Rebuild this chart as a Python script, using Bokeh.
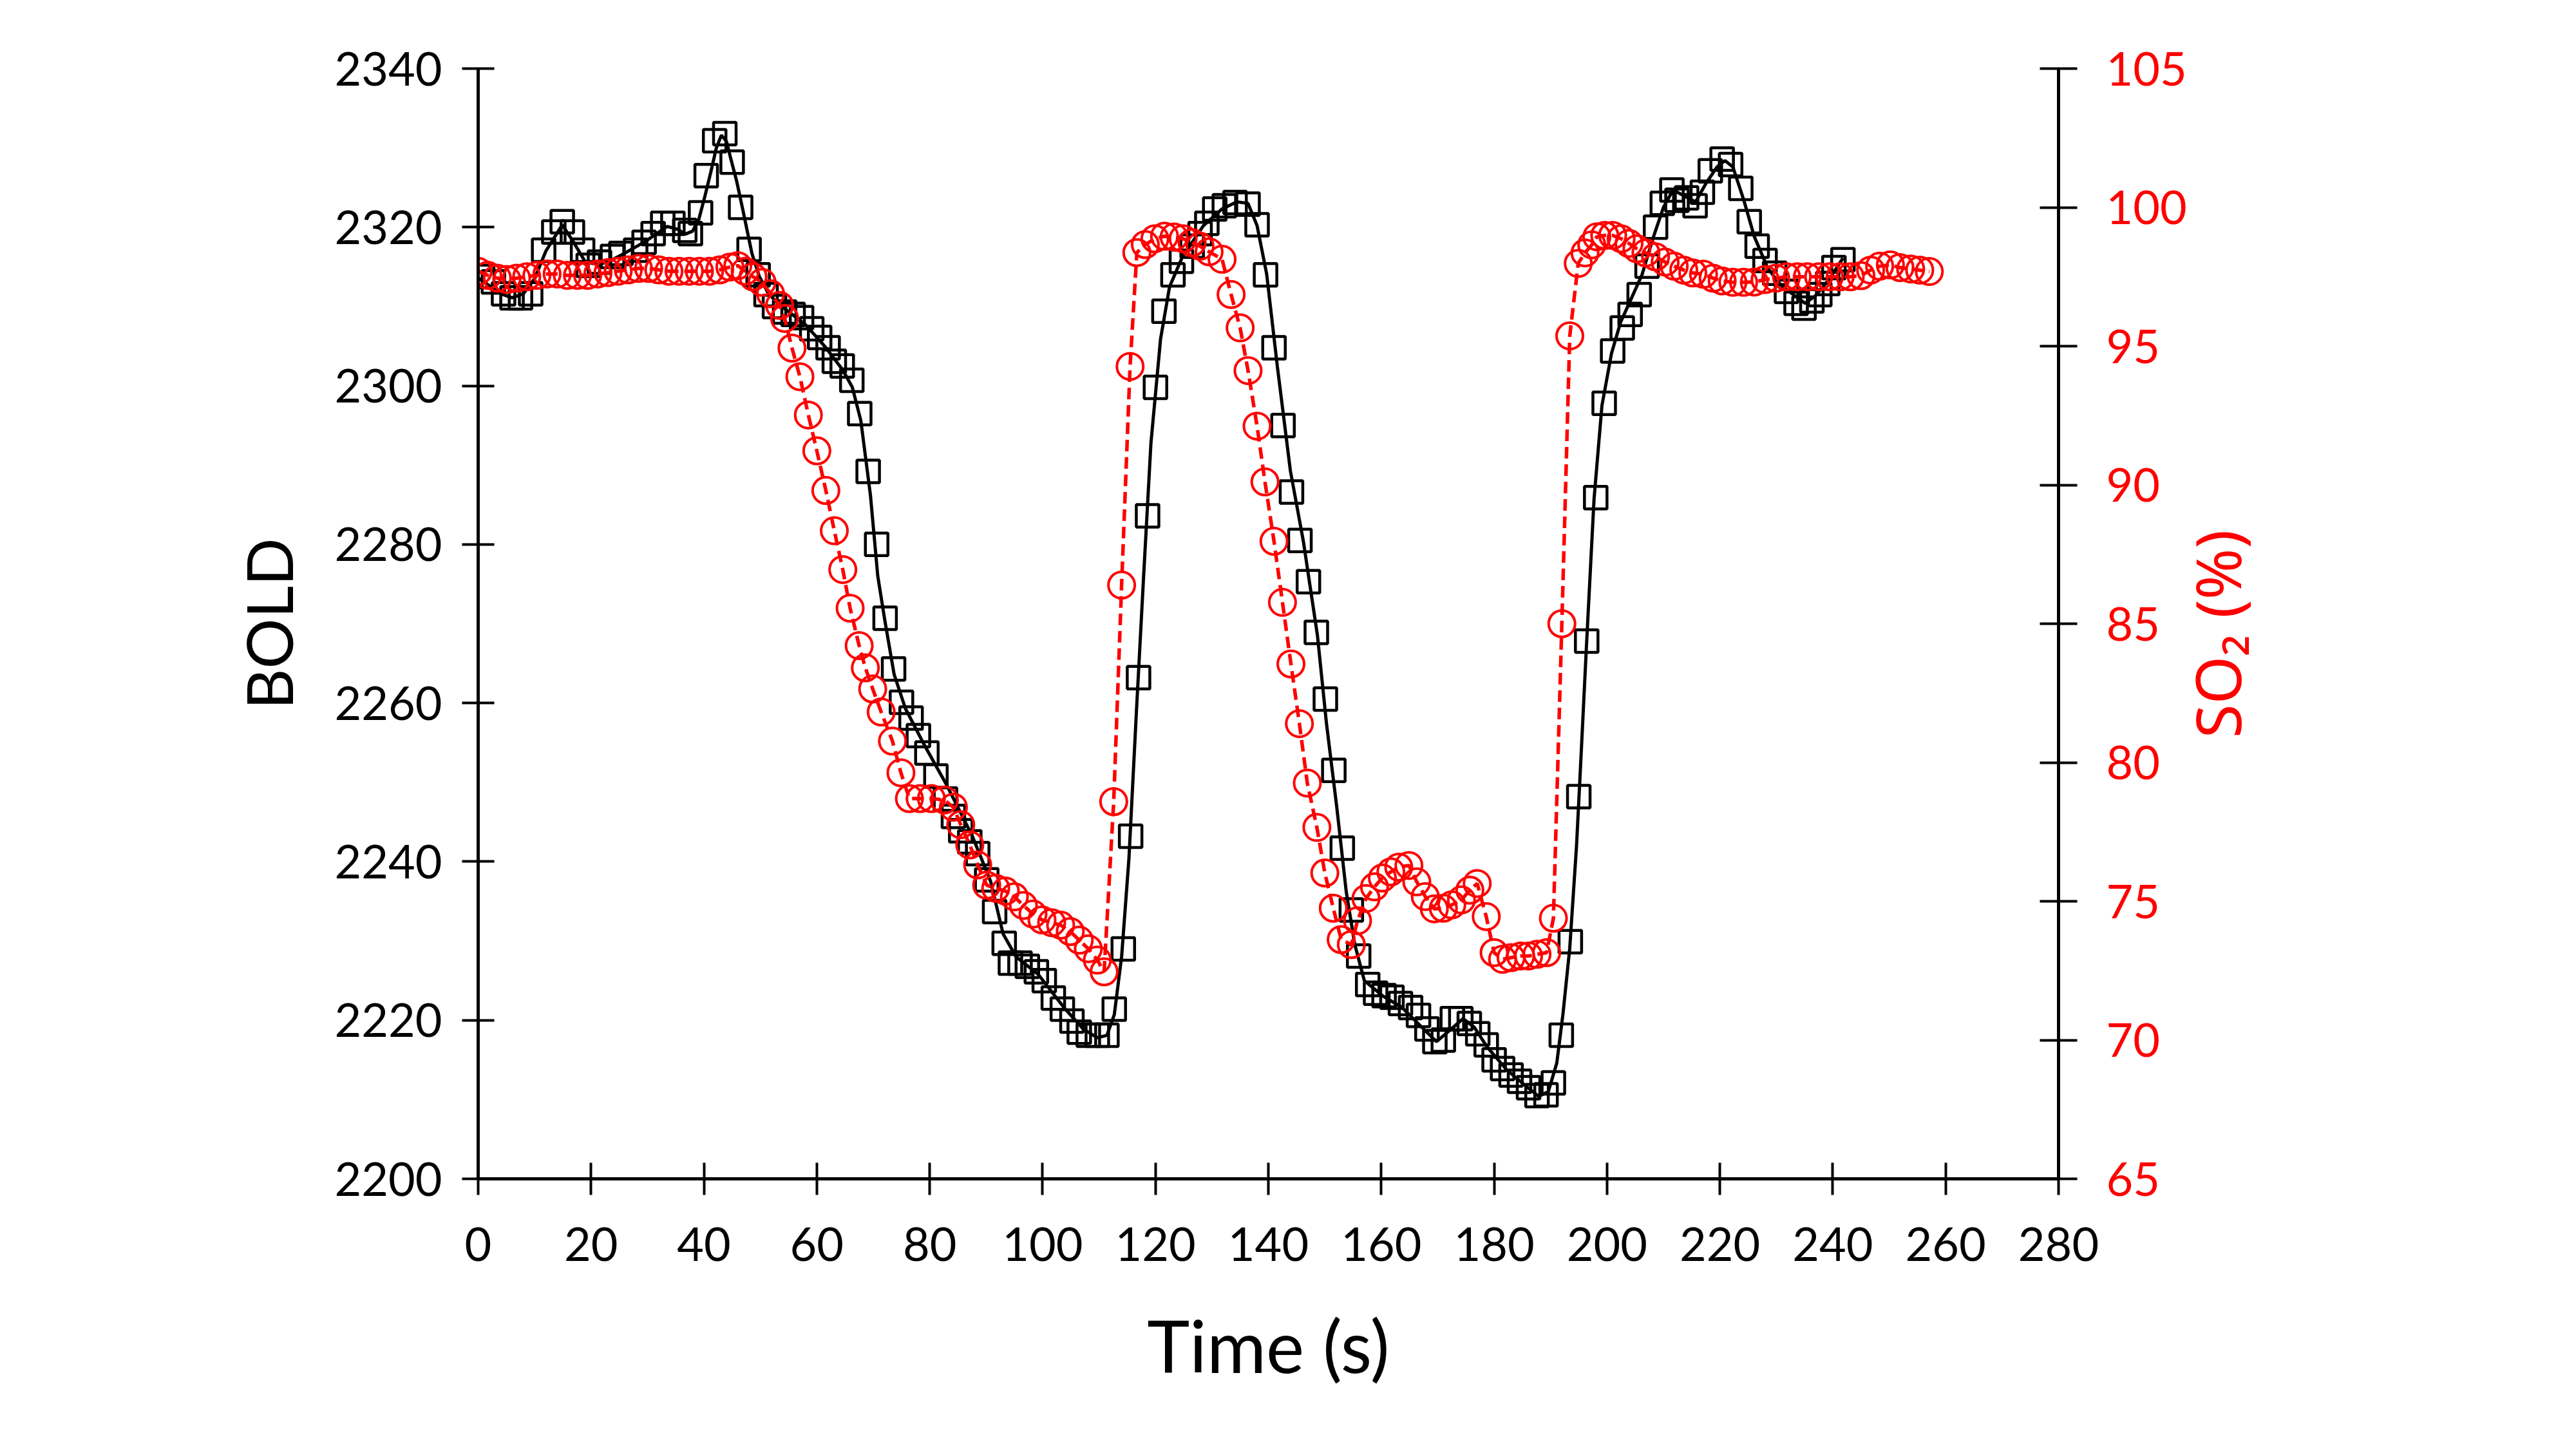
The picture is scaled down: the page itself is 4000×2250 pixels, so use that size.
import math
from bokeh.plotting import figure
from bokeh.models import Range1d, LinearAxis, FixedTicker
from bokeh.layouts import row
from bokeh.core.properties import value
from bokeh.embed import file_html
from bokeh.resources import INLINE

# ---------------- data ----------------
x_ticks = [0, 20, 40, 60, 80, 100, 120, 140, 160, 180, 200, 220, 240, 260, 280]
bold_ticks = [2200, 2220, 2240, 2260, 2280, 2300, 2320, 2340]
so2_ticks = [65, 70, 75, 80, 85, 90, 95, 100, 105]

# BOLD measurements (squares)
bold_t = [0.8, 2.7, 4.5, 6.0, 7.5, 9.3, 11.6, 13.4, 14.9, 16.7,
          18.5, 19.5, 21.5, 23.8, 25.3, 27.9, 29.4, 31.0, 32.7, 34.5,
          36.6, 37.6, 39.4, 40.4, 41.9, 43.7, 45.0, 46.5, 48.0, 49.6,
          51.0, 52.5, 54.3, 55.8, 57.3, 59.1, 60.5, 62.0, 63.1, 64.5,
          66.2, 67.6, 69.1, 70.6, 72.1, 73.6, 75.0, 76.7, 78.0, 79.5,
          81.1, 82.8, 84.2, 85.5, 87.1, 88.5, 90.1, 91.5, 93.2, 94.3,
          96.0, 97.3, 98.9, 100.3, 101.9, 103.5, 105.2, 106.5, 108.1, 109.7,
          111.4, 112.7, 114.3, 115.6, 117.0, 118.6, 120.0, 121.5, 123.1, 124.6,
          126.5, 127.9, 129.1, 130.5, 132.2, 134.1, 136.4, 138.0, 139.5, 141.0,
          142.6, 144.1, 145.6, 147.1, 148.5, 150.1, 151.6, 153.1, 154.7, 156.0,
          157.6, 159.0, 160.5, 161.9, 163.4, 165.2, 166.6, 168.1, 169.5, 171.0,
          172.6, 174.1, 175.6, 177.1, 178.6, 180.0, 181.5, 183.0, 184.5, 186.1,
          187.6, 189.2, 190.5, 191.9, 193.5, 195.0, 196.4, 198.0, 199.5, 201.0,
          202.7, 204.1, 205.7, 207.1, 208.6, 209.8, 211.5, 212.4, 214.1, 215.6,
          216.9, 218.3, 220.4, 221.9, 223.7, 225.2, 226.6, 228.0, 229.7, 231.8,
          233.5, 234.9, 236.3, 237.7, 239.1, 240.2, 241.8]
bold_v = [2313.8, 2313.1, 2311.6, 2311.1, 2311.1, 2311.6, 2317.1, 2319.4, 2320.7, 2319.4,
          2317.1, 2315.2, 2315.6, 2316.3, 2316.7, 2317.1, 2318.1, 2319.2, 2320.5, 2320.5,
          2319.6, 2319.2, 2321.8, 2326.5, 2330.9, 2331.8, 2328.2, 2322.5, 2317.2, 2314.0,
          2311.5, 2310.0, 2309.3, 2309.0, 2308.6, 2307.2, 2306.1, 2304.8, 2303.1, 2302.5,
          2300.7, 2296.5, 2289.2, 2280.0, 2270.7, 2264.3, 2260.1, 2258.1, 2255.9, 2253.7,
          2250.8, 2247.9, 2245.7, 2243.9, 2242.5, 2241.0, 2237.7, 2233.7, 2229.7, 2227.2,
          2227.2, 2226.8, 2226.1, 2225.0, 2222.8, 2221.4, 2219.9, 2218.5, 2218.1, 2218.1,
          2218.1, 2221.4, 2229.0, 2243.2, 2263.2, 2283.6, 2299.8, 2309.4, 2314.0, 2315.7,
          2317.6, 2319.2, 2320.5, 2322.3, 2322.7, 2323.1, 2322.9, 2320.3, 2314.0, 2304.8,
          2295.0, 2286.6, 2280.5, 2275.3, 2268.9, 2260.5, 2251.5, 2241.7, 2233.9, 2228.1,
          2224.5, 2223.4, 2223.1, 2222.9, 2222.1, 2221.6, 2220.6, 2218.9, 2217.3, 2217.5,
          2220.2, 2220.2, 2219.6, 2218.3, 2216.9, 2215.0, 2213.9, 2213.1, 2212.3, 2211.5,
          2210.5, 2210.6, 2212.1, 2218.1, 2229.9, 2248.2, 2267.8, 2285.9, 2297.8, 2304.4,
          2307.3, 2309.0, 2311.5, 2315.1, 2320.0, 2323.0, 2324.7, 2323.4, 2323.7, 2322.7,
          2324.4, 2327.1, 2328.6, 2327.9, 2324.9, 2320.7, 2317.6, 2315.8, 2314.2, 2311.9,
          2310.4, 2309.8, 2310.7, 2311.5, 2312.9, 2314.9, 2315.9]

# BOLD fitted curve (solid black line)
fit_t = [0.0, 2.0, 4.0, 6.0, 8.0, 10.0, 12.0, 14.9, 17.0, 19.0,
         21.5, 23.5, 25.9, 29.4, 33.5, 35.5, 36.6, 38.0, 39.1, 40.2,
         41.2, 42.2, 43.1, 44.0, 44.7, 45.8, 46.8, 48.5, 49.8, 51.3,
         52.9, 54.9, 58.0, 61.5, 64.6, 66.3, 67.8, 69.5, 70.8, 72.1,
         73.7, 75.7, 78.9, 82.9, 87.5, 90.8, 93.0, 95.3, 99.2, 103.9,
         107.2, 109.7, 111.4, 112.7, 114.0, 115.3, 116.6, 117.9, 119.2, 120.9,
         122.5, 124.8, 128.5, 131.8, 134.4, 136.4, 138.0, 139.7, 141.6, 143.9,
         146.2, 148.7, 150.3, 152.1, 153.8, 155.3, 157.0, 160.2, 163.7, 167.2,
         169.8, 172.1, 174.5, 176.5, 178.8, 182.3, 185.8, 187.9, 189.6, 191.1,
         192.2, 193.4, 194.6, 195.4, 196.4, 197.7, 199.1, 200.8, 202.4, 204.3,
         206.2, 208.1, 210.0, 211.7, 213.8, 215.7, 217.6, 219.5, 220.9, 222.3,
         224.2, 226.1, 228.5, 230.8, 233.2, 235.1, 237.0, 239.3, 241.8]
fit_v = [2313.6, 2312.6, 2311.6, 2311.1, 2311.6, 2313.5, 2317.0, 2320.3, 2318.0, 2315.6,
         2315.3, 2315.8, 2316.7, 2318.1, 2320.1, 2319.7, 2319.1, 2319.5, 2321.0, 2324.0,
         2326.9, 2330.0, 2331.6, 2330.8, 2328.8, 2325.8, 2322.5, 2316.7, 2313.8, 2311.8,
         2310.5, 2309.4, 2307.7, 2304.9, 2302.0, 2299.8, 2295.6, 2286.2, 2276.0, 2270.2,
         2263.6, 2259.3, 2254.9, 2249.8, 2243.3, 2237.5, 2230.9, 2228.0, 2225.8, 2221.5,
         2218.9, 2217.8, 2218.1, 2220.7, 2228.0, 2240.4, 2258.6, 2276.0, 2292.8, 2305.9,
         2312.5, 2316.3, 2320.2, 2322.3, 2323.2, 2323.0, 2320.2, 2314.1, 2302.4, 2289.3,
         2280.4, 2268.5, 2257.4, 2247.0, 2236.2, 2229.6, 2225.0, 2223.1, 2221.6, 2219.1,
         2217.3, 2218.7, 2220.2, 2219.1, 2216.6, 2213.7, 2211.6, 2210.4, 2211.0, 2214.6,
         2220.8, 2229.1, 2242.0, 2253.3, 2267.8, 2285.7, 2297.5, 2304.1, 2308.0, 2311.0,
         2314.0, 2318.5, 2322.5, 2324.7, 2323.9, 2323.2, 2325.6, 2327.6, 2328.4, 2327.6,
         2323.5, 2318.8, 2314.8, 2312.7, 2311.4, 2310.4, 2311.4, 2313.4, 2316.1]

# SO2 measurements (circles, dashed red line)
so2_t = [0.0, 1.7, 3.4, 5.1, 6.8, 8.6, 10.4, 12.2, 14.0, 15.8,
         17.6, 19.4, 21.2, 23.0, 24.8, 26.6, 28.4, 30.2, 32.0, 33.8,
         35.6, 37.4, 39.2, 41.0, 42.8, 44.6, 46.0, 47.3, 48.7, 50.3,
         51.8, 53.4, 54.3, 55.6, 57.0, 58.5, 60.0, 61.6, 63.1, 64.6,
         65.9, 67.5, 68.6, 69.9, 71.4, 73.4, 74.9, 76.4, 78.3, 80.3,
         82.6, 84.2, 85.5, 87.1, 88.5, 90.1, 91.7, 93.4, 95.0, 96.6,
         98.3, 99.9, 101.6, 103.2, 104.9, 106.5, 108.1, 109.7, 110.9, 112.6,
         114.0, 115.5, 116.7, 118.2, 119.9, 121.6, 123.3, 124.9, 126.5, 127.9,
         129.5, 131.8, 133.4, 135.0, 136.4, 138.0, 139.4, 141.0, 142.5, 144.0,
         145.5, 146.9, 148.6, 150.0, 151.5, 152.9, 154.7, 155.8, 157.3, 158.8,
         160.2, 161.7, 163.1, 164.9, 166.3, 167.8, 169.4, 171.0, 172.5, 174.2,
         175.7, 177.0, 178.6, 180.0, 181.5, 183.0, 184.7, 186.1, 187.6, 189.3,
         190.5, 192.0, 193.4, 194.9, 196.1, 197.3, 198.2, 199.6, 201.0, 202.5,
         203.9, 205.3, 206.9, 208.6, 210.3, 211.9, 213.6, 215.2, 217.1, 218.8,
         220.4, 222.3, 224.2, 226.1, 228.0, 229.9, 231.8, 233.7, 235.5, 237.5,
         239.4, 241.3, 243.1, 245.0, 246.7, 248.3, 250.2, 251.9, 253.8, 255.4,
         257.1]
so2_v = [97.7, 97.55, 97.45, 97.4, 97.45, 97.5, 97.55, 97.6, 97.6, 97.55,
         97.55, 97.55, 97.6, 97.65, 97.7, 97.75, 97.8, 97.8, 97.75, 97.7,
         97.7, 97.7, 97.7, 97.7, 97.75, 97.85, 97.9, 97.7, 97.5, 97.3,
         96.89, 96.47, 96.0, 94.93, 93.9, 92.52, 91.23, 89.8, 88.35, 86.95,
         85.56, 84.21, 83.41, 82.65, 81.82, 80.77, 79.63, 78.7, 78.7, 78.7,
         78.65, 78.39, 77.76, 77.03, 76.31, 75.58, 75.47, 75.37, 75.16, 74.85,
         74.54, 74.33, 74.23, 74.14, 73.91, 73.6, 73.29, 72.88, 72.46, 78.59,
         86.39, 94.27, 98.37, 98.66, 98.87, 98.96, 98.93, 98.87, 98.73, 98.6,
         98.4, 98.13, 96.86, 95.66, 94.12, 92.12, 90.11, 87.97, 85.77, 83.55,
         81.4, 79.26, 77.66, 76.02, 74.75, 73.62, 73.44, 74.3, 75.1, 75.52,
         75.84, 76.06, 76.23, 76.29, 75.7, 75.17, 74.73, 74.75, 74.87, 75.05,
         75.4, 75.64, 74.45, 73.15, 72.91, 72.97, 73.03, 73.03, 73.09, 73.15,
         74.39, 85.0, 95.37, 97.98, 98.36, 98.65, 98.94, 98.99, 98.99, 98.87,
         98.7, 98.51, 98.36, 98.22, 98.03, 97.88, 97.74, 97.64, 97.59, 97.45,
         97.35, 97.3, 97.3, 97.31, 97.4, 97.45, 97.5, 97.5, 97.5, 97.5,
         97.5, 97.5, 97.5, 97.54, 97.74, 97.88, 97.93, 97.83, 97.78, 97.74,
         97.69]

so2_title = ["SO\u2082 (%)"]

assert len(bold_t) == len(bold_v)
assert len(fit_t) == len(fit_v)
assert len(so2_t) == len(so2_v)

FONT = "Lato"
RED = "#ff0000"

# ---------------- main chart ----------------
MAIN_RIGHT = 204
p = figure(frame_width=2454, frame_height=1724, output_backend="svg",
           toolbar_location=None,
           x_range=Range1d(0, 280), y_range=Range1d(2200, 2340),
           min_border_left=742, min_border_right=MAIN_RIGHT,
           min_border_top=106, min_border_bottom=400,
           background_fill_color="white", border_fill_color="white")
p.extra_y_ranges = {"so2": Range1d(65, 105)}
p.outline_line_color = None
p.xgrid.visible = False
p.ygrid.visible = False


def style_axis(ax, tick_len, standoff, label_color="black"):
    ax.axis_line_color = "black"
    ax.axis_line_width = 5
    ax.major_tick_line_color = "black"
    ax.major_tick_line_width = 4
    ax.major_tick_in = tick_len
    ax.major_tick_out = tick_len
    ax.minor_tick_line_color = None
    ax.major_label_text_font = FONT
    ax.major_label_text_font_size = "72px"
    ax.major_label_text_color = label_color
    ax.major_label_standoff = standoff
    ax.axis_label_text_font = FONT
    ax.axis_label_text_font_size = "98px"
    ax.axis_label_text_font_style = "normal"
    ax.axis_label_text_color = label_color


xax = p.xaxis[0]
xax.ticker = FixedTicker(ticks=x_ticks)
style_axis(xax, 25, 50)
xax.axis_label = "Time (s)"
xax.axis_label_standoff = 60
xax.axis_label_text_font_size = "112px"

yax = p.yaxis[0]
yax.ticker = FixedTicker(ticks=bold_ticks)
style_axis(yax, 25, 31)
yax.axis_label = "BOLD"
yax.axis_label_standoff = 40

rax = LinearAxis(y_range_name="so2", ticker=FixedTicker(ticks=so2_ticks))
style_axis(rax, 29, 45, RED)
p.add_layout(rax, "right")

# BOLD squares and fitted curve
p.scatter(bold_t, bold_v, marker="square", size=35, fill_color=None,
          line_color="black", line_width=4.5)
p.line(fit_t, fit_v, line_color="black", line_width=5)

# SO2 circles and dashed line
p.scatter(so2_t, so2_v, marker="circle", size=41, fill_color=None,
          line_color=RED, line_width=4, y_range_name="so2")
p.line(so2_t, so2_v, line_color=RED, line_width=5.5, line_dash="18 9",
       y_range_name="so2")

# ---------------- narrow strip holding the right-hand axis title ----------------
STRIP_W, STRIP_H = 540, 2230
t = figure(width=STRIP_W, height=STRIP_H, output_backend="svg", toolbar_location=None,
           x_range=Range1d(0, STRIP_W), y_range=Range1d(0, STRIP_H),
           min_border=0, background_fill_color="white", border_fill_color="white")
t.axis.visible = False
t.grid.visible = False
t.outline_line_color = None
# baseline start of the rotated title (reads bottom-to-top)
t.text(x=[42], y=[885], text=so2_title, angle=math.pi / 2,
       text_align="left", text_baseline="alphabetic", text_color=RED,
       text_font=value("Noto Sans"), text_font_size=value("96px"))

layout = row(p, t)
open("out.html", "w").write(file_html(layout, INLINE))
